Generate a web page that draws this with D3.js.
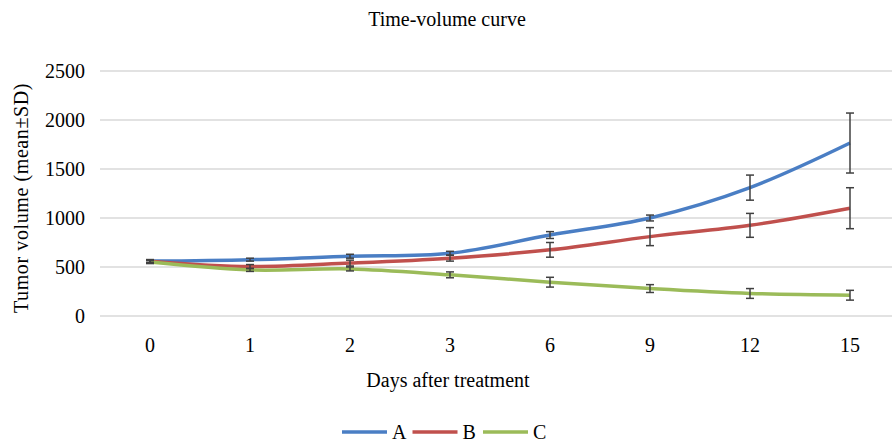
<!DOCTYPE html>
<html>
<head>
<meta charset="utf-8">
<script src="https://cdn.jsdelivr.net/npm/d3@7"></script>
<style>
  body { margin: 0; background: #fff; }
  text { font-family: "Liberation Serif", "Times New Roman", serif; fill: #000; }
</style>
</head>
<body>
<div id="chart"></div>
<script>
const days = ["0", "1", "2", "3", "6", "9", "12", "15"];
const yTicks = [0, 500, 1000, 1500, 2000, 2500];

const meanA = [560, 575, 610, 640, 826, 1000, 1310, 1765];
const sdA   = [15, 15, 20, 20, 35, 30, 128, 306];
const meanB = [560, 505, 540, 590, 675, 810, 925, 1100];
const sdB   = [15, 20, 30, 30, 75, 92, 122, 209];
const meanC = [550, 470, 480, 420, 345, 280, 230, 212];
const sdC   = [15, 15, 20, 30, 50, 40, 50, 50];

const series = [
    { name: "A", color: "#4A7EC4", mean: meanA, sd: sdA },
    { name: "B", color: "#C0504D", mean: meanB, sd: sdB },
    { name: "C", color: "#9BBB59", mean: meanC, sd: sdC }
];

const width = 892;
const height = 444;

const svg = d3.select("#chart")
    .append("svg")
    .attr("width", width)
    .attr("height", height);

const x = d3.scalePoint()
    .domain(days)
    .range([150, 850]);

const y = d3.scaleLinear()
    .domain([0, 2500])
    .range([316, 71]);

// gridlines
svg.append("g")
    .selectAll("line")
    .data(yTicks)
    .enter().append("line")
    .attr("x1", 100)
    .attr("x2", width)
    .attr("y1", d => y(d))
    .attr("y2", d => y(d))
    .attr("stroke", "#d9d9d9")
    .attr("stroke-width", 1.5);

// y tick labels
svg.append("g")
    .selectAll("text")
    .data(yTicks)
    .enter().append("text")
    .attr("x", 85)
    .attr("y", d => y(d))
    .attr("dy", "0.33em")
    .attr("text-anchor", "end")
    .attr("font-size", "20px")
    .text(d => d);

// x tick labels
svg.append("g")
    .selectAll("text")
    .data(days)
    .enter().append("text")
    .attr("x", d => x(d))
    .attr("y", 352)
    .attr("text-anchor", "middle")
    .attr("font-size", "20px")
    .text(d => d);

const line = d3.line()
    .x((d, i) => x(days[i]))
    .y(d => y(d))
    .curve(d3.curveCatmullRom.alpha(0.5));

series.forEach(s => {
    svg.append("path")
        .datum(s.mean)
        .attr("fill", "none")
        .attr("stroke", s.color)
        .attr("stroke-width", 3.5)
        .attr("stroke-linejoin", "round")
        .attr("d", line);
});

// error bars
series.forEach(s => {
    const g = svg.append("g")
        .attr("stroke", "#404040")
        .attr("stroke-width", 1.5);
    s.mean.forEach((m, i) => {
        const cx = x(days[i]);
        const top = y(m + s.sd[i]);
        const bot = y(m - s.sd[i]);
        g.append("line").attr("x1", cx).attr("x2", cx).attr("y1", top).attr("y2", bot);
        g.append("line").attr("x1", cx - 4).attr("x2", cx + 4).attr("y1", top).attr("y2", top);
        g.append("line").attr("x1", cx - 4).attr("x2", cx + 4).attr("y1", bot).attr("y2", bot);
    });
});

// title
svg.append("text")
    .attr("x", 447)
    .attr("y", 26)
    .attr("text-anchor", "middle")
    .attr("font-size", "20px")
    .text("Time-volume curve");

// axis titles
svg.append("text")
    .attr("x", 448)
    .attr("y", 387)
    .attr("text-anchor", "middle")
    .attr("font-size", "20px")
    .text("Days after treatment");

svg.append("text")
    .attr("transform", "translate(28,198) rotate(-90)")
    .attr("text-anchor", "middle")
    .attr("font-size", "20px")
    .attr("letter-spacing", "0.6px")
    .text("Tumor volume  (mean±SD)");

// legend
const legend = svg.append("g")
    .selectAll("g")
    .data(series)
    .enter().append("g")
    .attr("transform", (d, i) => `translate(${342 + i * 70.5},432)`);

legend.append("line")
    .attr("x1", 0)
    .attr("x2", 45)
    .attr("stroke", d => d.color)
    .attr("stroke-width", 3.5);

legend.append("text")
    .attr("x", 50)
    .attr("dy", "0.33em")
    .attr("font-size", "20px")
    .text(d => d.name);
</script>
</body>
</html>
